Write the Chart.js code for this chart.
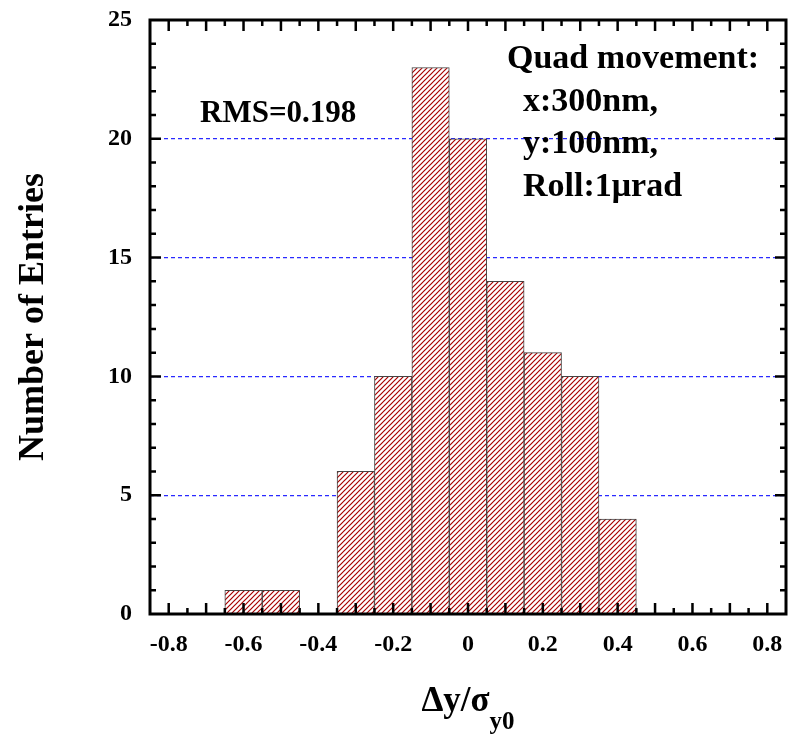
<!DOCTYPE html>
<html>
<head>
<meta charset="utf-8">
<script src="https://cdn.jsdelivr.net/npm/chart.js@4"></script>
<style>
  html, body { margin: 0; padding: 0; background: #fff; }
  #wrap { width: 792px; height: 734px; }
</style>
</head>
<body>
<div id="wrap"><canvas id="histo" width="792" height="734"></canvas></div>
<script>
// histogram bins (centres) and entries
const binCenters = [-0.6, -0.5, -0.3, -0.2, -0.1, 0, 0.1, 0.2, 0.3, 0.4];
const entries = [1, 1, 6, 10, 23, 20, 14, 11, 10, 4];

// axis labels
const xTickValues = [-0.8, -0.6, -0.4, -0.2, 0, 0.2, 0.4, 0.6, 0.8];
const xTickLabels = ["-0.8", "-0.6", "-0.4", "-0.2", "0", "0.2", "0.4", "0.6", "0.8"];
const yTickValues = [0, 5, 10, 15, 20, 25];
const yTickLabels = ["0", "5", "10", "15", "20", "25"];

// tick marks on the frame
const xMajorMarks = [-0.8, -0.7, -0.6, -0.5, -0.4, -0.3, -0.2, -0.1, 0, 0.1, 0.2, 0.3, 0.4, 0.5, 0.6, 0.7, 0.8];
const xMinorMarks = [-0.75, -0.65, -0.55, -0.45, -0.35, -0.25, -0.15, -0.05, 0.05, 0.15, 0.25, 0.35, 0.45, 0.55, 0.65, 0.75];
const yMajorMarks = [5, 10, 15, 20];
const yMinorMarks = [1, 2, 3, 4, 6, 7, 8, 9, 11, 12, 13, 14, 16, 17, 18, 19, 21, 22, 23, 24];

const rmsText = "RMS=0.198";
const noteLines = ["Quad movement:", "x:300nm,", "y:100nm,", "Roll:1\u03bcrad"];

const SERIF = "'Liberation Serif', 'Times New Roman', serif";

// red hatch on white
function makeHatch() {
    let s = 5;
    let c = document.createElement("canvas");
    c.width = s; c.height = s;
    let g = c.getContext("2d");
    g.fillStyle = "#fff";
    g.fillRect(0, 0, s, s);
    g.strokeStyle = "#a80000";
    g.lineWidth = 1.2;
    g.beginPath();
    g.moveTo(-1, s + 1); g.lineTo(s + 1, -1);
    g.moveTo(-1, 1); g.lineTo(1, -1);
    g.moveTo(s - 1, s + 1); g.lineTo(s + 1, s - 1);
    g.stroke();
    return g.createPattern(c, "repeat");
}

// frame, inward ticks, text
const framePlugin = {
    id: "framePlugin",
    afterDatasetsDraw(chart) {
        const { ctx, chartArea: a, scales: { x, y } } = chart;
        ctx.save();
        ctx.strokeStyle = "#000";
        ctx.lineWidth = 3;
        ctx.strokeRect(a.left, a.top, a.right - a.left, a.bottom - a.top);

        ctx.lineWidth = 2.5;
        ctx.beginPath();
        const xMark = (v, len) => {
            let px = x.getPixelForValue(v);
            ctx.moveTo(px, a.bottom); ctx.lineTo(px, a.bottom - len);
            ctx.moveTo(px, a.top); ctx.lineTo(px, a.top + len);
        };
        const yMark = (v, len) => {
            let py = y.getPixelForValue(v);
            ctx.moveTo(a.left, py); ctx.lineTo(a.left + len, py);
            ctx.moveTo(a.right, py); ctx.lineTo(a.right - len, py);
        };
        xMajorMarks.forEach(v => xMark(v, 11));
        xMinorMarks.forEach(v => xMark(v, 6));
        yMajorMarks.forEach(v => yMark(v, 11));
        yMinorMarks.forEach(v => yMark(v, 6));
        ctx.stroke();

        // annotations
        ctx.fillStyle = "#000";
        ctx.textAlign = "left";
        ctx.textBaseline = "alphabetic";
        ctx.font = "bold 31px " + SERIF;
        ctx.fillText(rmsText, 200, 122);

        ctx.font = "bold 34px " + SERIF;
        noteLines.forEach((t, i) => {
            let indent = i === 0 ? 0 : 16;
            ctx.fillText(t, 507 + indent, 68 + i * 42.5);
        });

        // y title
        ctx.save();
        ctx.translate(43, (a.top + a.bottom) / 2);
        ctx.rotate(-Math.PI / 2);
        ctx.textAlign = "center";
        ctx.font = "bold 36px " + SERIF;
        ctx.fillText("Number of Entries", 0, 0);
        ctx.restore();

        // x title with subscript
        let cx = (a.left + a.right) / 2;
        ctx.font = "bold 35px " + SERIF;
        let main = "\u0394y/\u03c3";
        let w1 = ctx.measureText(main).width;
        ctx.font = "bold 25px " + SERIF;
        let w2 = ctx.measureText("y0").width;
        let x0 = cx - (w1 + w2) / 2;
        ctx.font = "bold 35px " + SERIF;
        ctx.fillText(main, x0, 711);
        ctx.font = "bold 25px " + SERIF;
        ctx.fillText("y0", x0 + w1, 729);
        ctx.restore();
    }
};

document.addEventListener("DOMContentLoaded", function () {
    let ctx = document.getElementById("histo").getContext("2d");

    new Chart(ctx, {
        type: "bar",
        data: {
            datasets: [{
                data: binCenters.map((c, i) => ({ x: c, y: entries[i] })),
                backgroundColor: makeHatch(),
                borderColor: "#444",
                borderWidth: 1,
                barPercentage: 1,
                categoryPercentage: 1
            }]
        },
        options: {
            responsive: false,
            animation: false,
            layout: { padding: { top: 20, right: 6, left: 0, bottom: 0 } },
            plugins: { legend: { display: false }, tooltip: { enabled: false } },
            scales: {
                x: {
                    type: "linear",
                    offset: false,
                    min: -0.85,
                    max: 0.85,
                    afterBuildTicks: (scale) => { scale.ticks = xTickValues.map(v => ({ value: v })); },
                    afterFit: (scale) => {
                        scale.height = 120;
                        scale.paddingLeft = 0;
                        scale.paddingRight = 0;
                    },
                    grid: { display: false, drawTicks: false },
                    border: { display: false },
                    ticks: {
                        autoSkip: false,
                        maxRotation: 0,
                        padding: 16,
                        color: "#000",
                        font: { family: SERIF, size: 24, weight: "bold" },
                        callback: (v, i) => xTickLabels[i]
                    }
                },
                y: {
                    min: 0,
                    max: 25,
                    afterBuildTicks: (scale) => { scale.ticks = yTickValues.map(v => ({ value: v })); },
                    afterFit: (scale) => {
                        scale.width = 150;
                        scale.paddingTop = 0;
                        scale.paddingBottom = 0;
                    },
                    grid: {
                        drawTicks: false,
                        lineWidth: 1.2,
                        color: (c) => (c.index > 0 && c.index < yTickValues.length - 1) ? "#2a2aff" : "rgba(0,0,0,0)"
                    },
                    border: { display: false, dash: [4, 3] },
                    ticks: {
                        padding: 18,
                        color: "#000",
                        font: { family: SERIF, size: 24, weight: "bold" },
                        callback: (v, i) => yTickLabels[i]
                    }
                }
            }
        },
        plugins: [framePlugin]
    });
});
</script>
</body>
</html>
